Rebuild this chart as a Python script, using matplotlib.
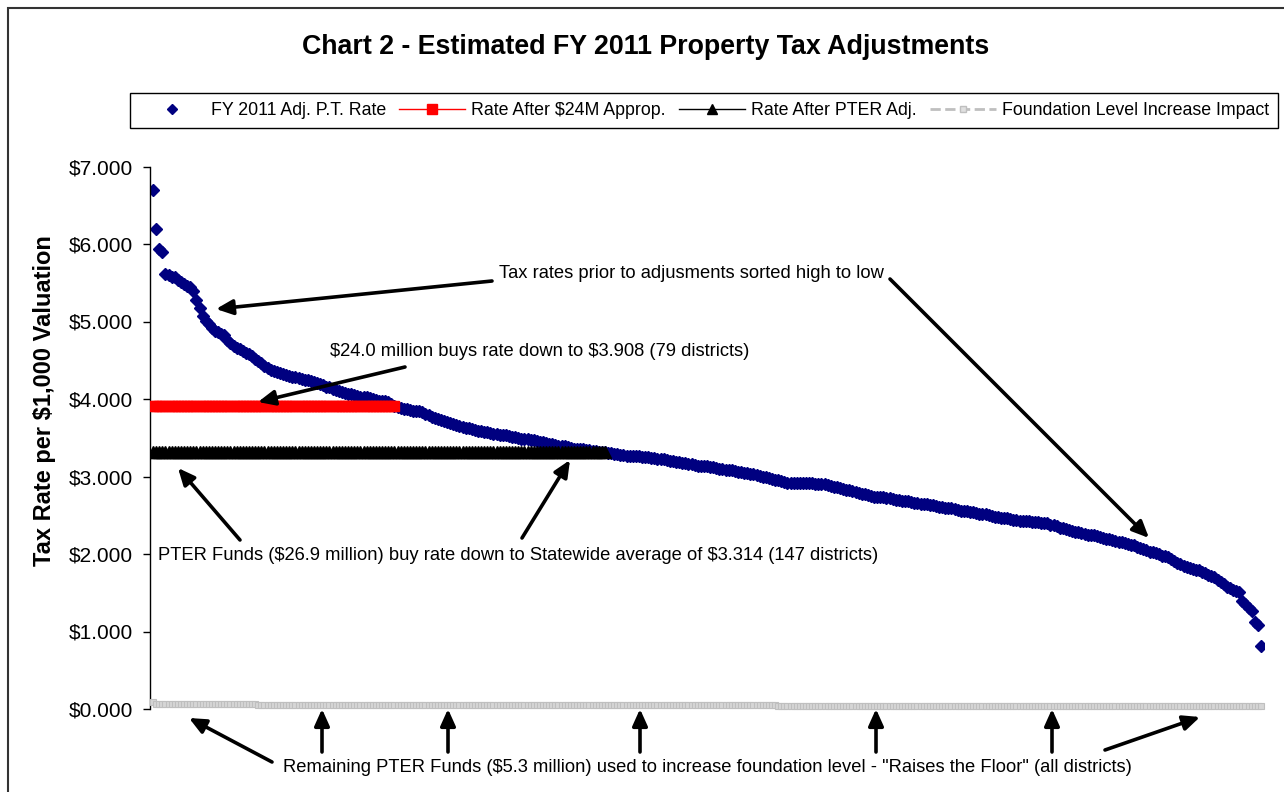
import numpy as np
import matplotlib
matplotlib.use("Agg")
import matplotlib.pyplot as plt
from matplotlib.lines import Line2D
from matplotlib.patches import Rectangle
from matplotlib.ticker import FuncFormatter

plt.rcParams['font.family'] = ['Liberation Sans', 'DejaVu Sans']
plt.rcParams['text.parse_math'] = False

# FY 2011 adjusted property tax rate per district, sorted high to low
rate_fy2011 = [
    6.70, 6.20, 5.94, 5.90, 5.61, 5.60, 5.58, 5.57, 5.54, 5.51,
    5.49, 5.46, 5.44, 5.39, 5.28, 5.17, 5.07, 5.01, 4.97, 4.92,
    4.88, 4.86, 4.84, 4.82, 4.76, 4.72, 4.68, 4.66, 4.64, 4.62,
    4.60, 4.58, 4.55, 4.52, 4.49, 4.46, 4.43, 4.40, 4.38, 4.36,
    4.35, 4.33, 4.32, 4.31, 4.30, 4.29, 4.28, 4.27, 4.26, 4.25,
    4.24, 4.23, 4.22, 4.21, 4.19, 4.18, 4.16, 4.15, 4.13, 4.12,
    4.10, 4.09, 4.08, 4.07, 4.06, 4.05, 4.04, 4.03, 4.02, 4.02,
    4.01, 4.00, 3.99, 3.98, 3.98, 3.97, 3.96, 3.93, 3.915, 3.90,
    3.88, 3.87, 3.87, 3.86, 3.85, 3.84, 3.84, 3.83, 3.81, 3.79,
    3.77, 3.75, 3.74, 3.73, 3.71, 3.70, 3.69, 3.68, 3.67, 3.65,
    3.64, 3.63, 3.62, 3.61, 3.60, 3.59, 3.59, 3.58, 3.57, 3.56,
    3.55, 3.55, 3.54, 3.53, 3.53, 3.52, 3.51, 3.51, 3.50, 3.49,
    3.49, 3.48, 3.47, 3.47, 3.46, 3.45, 3.44, 3.43, 3.42, 3.42,
    3.41, 3.40, 3.39, 3.39, 3.38, 3.37, 3.36, 3.36, 3.35, 3.35,
    3.34, 3.34, 3.33, 3.33, 3.32, 3.32, 3.315, 3.30, 3.30, 3.29,
    3.29, 3.28, 3.28, 3.27, 3.27, 3.27, 3.26, 3.26, 3.25, 3.25,
    3.25, 3.24, 3.24, 3.23, 3.22, 3.22, 3.21, 3.20, 3.20, 3.19,
    3.19, 3.18, 3.17, 3.16, 3.16, 3.15, 3.14, 3.14, 3.13, 3.13,
    3.12, 3.12, 3.11, 3.10, 3.10, 3.09, 3.08, 3.08, 3.07, 3.06,
    3.06, 3.05, 3.04, 3.03, 3.03, 3.02, 3.01, 3.00, 2.99, 2.98,
    2.97, 2.96, 2.95, 2.94, 2.93, 2.92, 2.92, 2.91, 2.91, 2.91,
    2.91, 2.91, 2.91, 2.91, 2.90, 2.90, 2.90, 2.90, 2.89, 2.88,
    2.87, 2.86, 2.85, 2.84, 2.83, 2.82, 2.81, 2.80, 2.79, 2.78,
    2.77, 2.76, 2.75, 2.74, 2.74, 2.73, 2.73, 2.72, 2.72, 2.71,
    2.70, 2.70, 2.69, 2.68, 2.68, 2.67, 2.66, 2.66, 2.65, 2.65,
    2.64, 2.63, 2.63, 2.62, 2.61, 2.61, 2.60, 2.59, 2.59, 2.58,
    2.57, 2.56, 2.56, 2.55, 2.54, 2.54, 2.53, 2.52, 2.51, 2.51,
    2.50, 2.49, 2.48, 2.48, 2.47, 2.46, 2.46, 2.45, 2.44, 2.44,
    2.43, 2.43, 2.42, 2.42, 2.41, 2.41, 2.41, 2.40, 2.40, 2.40,
    2.38, 2.37, 2.36, 2.34, 2.33, 2.32, 2.31, 2.30, 2.29, 2.28,
    2.27, 2.26, 2.25, 2.24, 2.24, 2.23, 2.22, 2.21, 2.20, 2.19,
    2.18, 2.17, 2.16, 2.15, 2.14, 2.13, 2.12, 2.11, 2.09, 2.08,
    2.06, 2.05, 2.03, 2.02, 2.01, 2.00, 1.98, 1.97, 1.96, 1.93,
    1.91, 1.89, 1.87, 1.85, 1.83, 1.82, 1.81, 1.80, 1.79, 1.77,
    1.75, 1.73, 1.72, 1.70, 1.67, 1.64, 1.61, 1.58, 1.56, 1.54,
    1.52, 1.51, 1.40, 1.35, 1.30, 1.27, 1.12, 1.09, 0.81,
]
rate_after_24m = [3.908] * 79          # 79 districts bought down
rate_after_pter = [3.314] * 147        # 147 districts bought down
foundation_impact = [0.09] + [0.07] * 33 + [0.05] * 168 + [0.035] * 157

labels = ['FY 2011 Adj. P.T. Rate', 'Rate After $24M Approp.',
          'Rate After PTER Adj.', 'Foundation Level Increase Impact']

W, H = 1284, 792


def px(x, y):
    return (x / W, 1 - y / H)


fig = plt.figure(figsize=(W / 100, H / 100), dpi=100)
ax = fig.add_axes([150 / W, 1 - 709 / H, (1264 - 150) / W, (709 - 166.5) / H])

n = len(rate_fy2011)
ax.plot(np.arange(n), rate_fy2011, linestyle='none', marker='D', ms=6.4,
        color='#000080', zorder=2)
ax.plot(np.arange(len(rate_after_24m)), rate_after_24m, color='#FF0000', lw=1,
        marker='s', ms=7.5, zorder=3)
ax.plot(np.arange(len(rate_after_pter)), rate_after_pter, color='black', lw=1,
        marker='^', ms=8.5, zorder=3)
ax.plot(np.arange(len(foundation_impact)), foundation_impact, color='#BFBFBF',
        lw=3, ls='--', marker='s', ms=5, mfc='#D6D6D6', mec='#BFBFBF',
        mew=0.8, zorder=4, clip_on=False)

ax.set_xlim(-1.0, 359.0)
ax.set_ylim(0, 7)
ax.set_yticks(range(8))
ax.yaxis.set_major_formatter(FuncFormatter(lambda v, p: '${:.3f}'.format(v)))
ax.tick_params(axis='y', direction='out', length=5, width=1, labelsize=15, pad=7)
ax.set_xticks([])
for s in ['top', 'right', 'bottom']:
    ax.spines[s].set_visible(False)
ax.spines['left'].set_linewidth(1)

fig.text(45 / W, 1 - 401 / H, 'Tax Rate per $1,000 Valuation', rotation=90,
         ha='center', va='center', fontsize=17, fontweight='bold')
fig.text(646 / W, 1 - 47 / H, 'Chart 2 - Estimated FY 2011 Property Tax Adjustments',
         ha='center', va='center', fontsize=19.3, fontweight='bold')

# legend
handles = [
    Line2D([], [], ls='none', marker='D', ms=5.5, color='#000080'),
    Line2D([], [], color='#FF0000', lw=1, marker='s', ms=7.5),
    Line2D([], [], color='black', lw=1, marker='^', ms=7.5),
    Line2D([], [], color='#BFBFBF', lw=2, ls='--', marker='s', ms=4.5,
           mfc='#E0E0E0', mec='#BFBFBF'),
]
leg = fig.legend(handles, labels, loc='upper left', ncol=4,
                 bbox_to_anchor=(130 / W, 1 - 93 / H),
                 frameon=True, fancybox=False, edgecolor='black', fontsize=12.8,
                 handlelength=3.7, borderaxespad=0, columnspacing=0.75,
                 handletextpad=0.35, borderpad=0.5, framealpha=1)
leg.get_frame().set_linewidth(1)

# chart border
fig.patches.append(Rectangle((8 / W, -0.1), 1.2, 1.1 - 8 / H, transform=fig.transFigure,
                             fill=False, edgecolor='#333333', lw=1.5))

# annotations
arrow = dict(arrowstyle='-|>,head_length=1.0,head_width=0.45', color='black',
             lw=2.6, shrinkA=0, shrinkB=0, mutation_scale=10)


def arr(x0, y0, x1, y1):
    ax.annotate('', xy=px(x1, y1), xytext=px(x0, y0), xycoords='figure fraction',
                textcoords='figure fraction', arrowprops=arrow, annotation_clip=False)


fs = 13.2
fig.text(*px(691, 273), 'Tax rates prior to adjusments sorted high to low',
         ha='center', va='center', fontsize=fs)
arr(492, 281, 216, 309)
arr(890, 279, 1149, 538)

fig.text(*px(540, 352), '$24.0 million buys rate down to $3.908 (79 districts)',
         ha='center', va='center', fontsize=fs)
arr(405, 367, 258, 402)

fig.text(*px(518, 556),
         'PTER Funds ($26.9 million) buy rate down to Statewide average of $3.314 (147 districts)',
         ha='center', va='center', fontsize=fs)
arr(240, 540, 178, 468)
arr(522, 538, 570, 460)

fig.text(*px(707, 768),
         'Remaining PTER Funds ($5.3 million) used to increase foundation level - '
         '"Raises the Floor" (all districts)',
         ha='center', va='center', fontsize=fs)
arr(272, 762, 189, 718)
for xv in [322, 448, 640, 876, 1052]:
    arr(xv, 752, xv, 709)
arr(1105, 750, 1200, 717)

fig.savefig('out.png', dpi=100)
